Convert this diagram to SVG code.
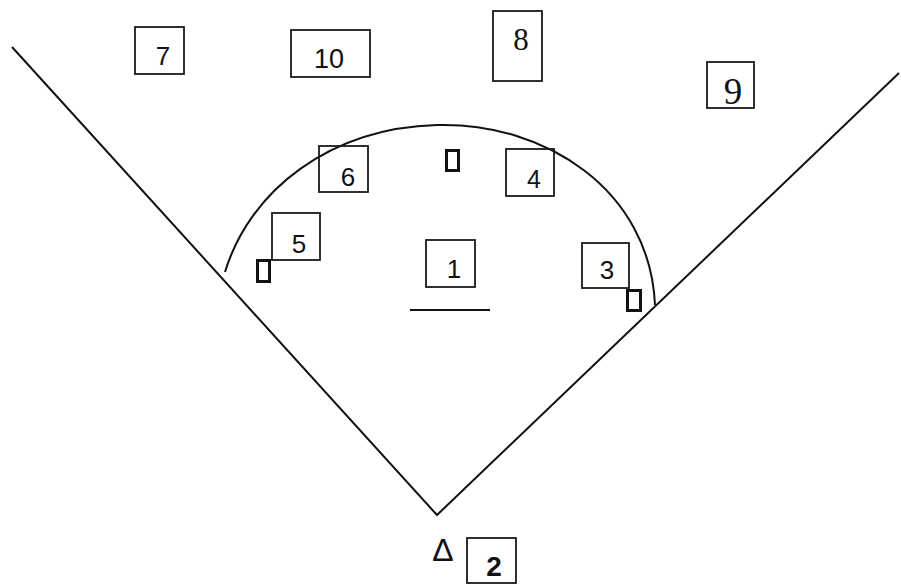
<svg xmlns="http://www.w3.org/2000/svg" width="901" height="587" viewBox="0 0 901 587">
<style>
.pos{fill:none;stroke:#1a1a1a;stroke-width:1.8}
.base{fill:none;stroke:#111;stroke-width:3}
.ln{fill:none;stroke:#111;stroke-width:2}
.s{font-family:"Liberation Sans",Arial,sans-serif;fill:#111;text-anchor:middle}
.r{font-family:"Liberation Serif","Times New Roman",serif;fill:#111;text-anchor:middle}
</style>
<rect width="901" height="587" fill="#fff"/>
<g id="connectors">
<path class="ln" d="M12,47 L437,515 L899,73"/>
<path class="ln" d="M225,272 C250,190 330,128 437,125 C545,122 650,190 655,305"/>
<line class="ln" x1="410" y1="310" x2="490" y2="310" stroke-width="1.8"/>
</g>
<g id="p7"><rect class="pos" x="135" y="27" width="49" height="47"/><text class="s" x="163" y="65" font-size="26">7</text></g>
<g id="p10"><rect class="pos" x="291" y="30" width="79" height="47"/><text class="s" x="329" y="68" font-size="27">10</text></g>
<g id="p8"><rect class="pos" x="493" y="11" width="49" height="70"/><text class="r" x="521" y="50" font-size="31">8</text></g>
<g id="p9"><rect class="pos" x="707" y="62" width="47" height="46"/><text class="r" x="733" y="104" font-size="37">9</text></g>
<g id="p6"><rect class="pos" x="319" y="146" width="49" height="46"/><text class="s" x="348" y="186" font-size="26">6</text></g>
<g id="p4"><rect class="pos" x="506" y="149" width="48" height="47"/><text class="s" x="534" y="188" font-size="25">4</text></g>
<g id="p5"><rect class="pos" x="272" y="213" width="48" height="47"/><text class="s" x="299" y="253" font-size="26">5</text></g>
<g id="p1"><rect class="pos" x="426" y="240" width="49" height="47"/><text class="s" x="454" y="278" font-size="26">1</text></g>
<g id="p3"><rect class="pos" x="582" y="243" width="47" height="45"/><text class="s" x="607" y="279" font-size="26">3</text></g>
<g id="p2"><rect class="pos" x="467" y="538" width="49" height="45"/><text class="s" x="494" y="576" font-size="28" font-weight="bold">2</text></g>
<g id="base3"><rect class="base" x="257.5" y="260.5" width="12" height="21"/></g>
<g id="base2"><rect class="base" x="446.5" y="150.5" width="12" height="20"/></g>
<g id="base1"><rect class="base" x="627.5" y="290.5" width="13" height="20"/></g>
<g id="home"><text class="s" x="443" y="561" font-size="32">Δ</text></g>
</svg>
